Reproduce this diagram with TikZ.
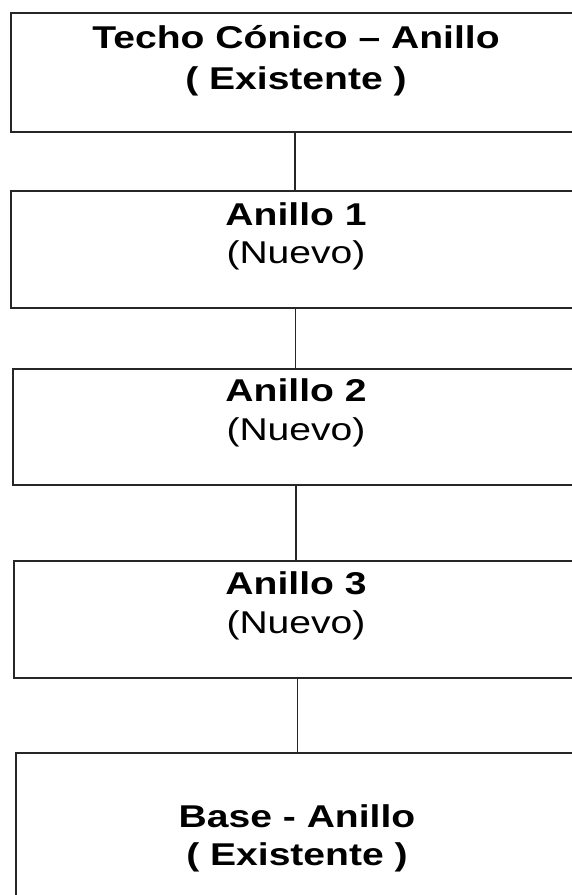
\documentclass[tikz,border=0pt]{standalone}
\usepackage{fontspec}
\setmainfont{Liberation Sans}[FakeStretch=1.24]
\begin{document}
\begin{tikzpicture}[x=1pt,y=1pt,
  ringbox/.style={draw=black!85, line width=1.9pt, rectangle, inner sep=0pt, anchor=north west},
  link/.style={draw=black!85, line width=1.6pt},
  headtxt/.style={inner sep=0pt, anchor=base, font=\fontsize{31.5}{36}\selectfont\bfseries},
  subtxt/.style={inner sep=0pt, anchor=base, font=\fontsize{31.5}{36}\selectfont}]
\useasboundingbox (0,0) rectangle (572,-895);
\fill[white] (0,0) rectangle (572,-895);

% stacked rings, each box runs off the right edge
\node[ringbox, minimum width=600pt, minimum height=119pt] (b1) at (10,-12) {};
\node[ringbox, minimum width=600pt, minimum height=117pt] (b2) at (10,-190) {};
\node[ringbox, minimum width=600pt, minimum height=116pt] (b3) at (12,-368) {};
\node[ringbox, minimum width=600pt, minimum height=117pt] (b4) at (13,-560) {};
\node[ringbox, minimum width=600pt, minimum height=200pt] (b5) at (15,-752) {};

% labels
\node[headtxt] (t1) at (296,-48) {Techo Cónico – Anillo};
\node[headtxt] (s1) at (296,-89) {( Existente )};
\node[headtxt] (t2) at (296,-225) {Anillo 1};
\node[subtxt]  (s2) at (296,-263) {(Nuevo)};
\node[headtxt] (t3) at (296,-401) {Anillo 2};
\node[subtxt]  (s3) at (296,-440) {(Nuevo)};
\node[headtxt] (t4) at (296,-594) {Anillo 3};
\node[subtxt]  (s4) at (296,-633) {(Nuevo)};
\node[headtxt] (t5) at (297,-827) {Base - Anillo};
\node[headtxt] (s5) at (297,-865) {( Existente )};

% vertical connectors between consecutive rings
\draw[link] ([xshift=285pt]b1.south west) -- ([xshift=285pt]b2.north west);
\draw[link] ([xshift=285.5pt]b2.south west) -- ([xshift=283.5pt]b3.north west);
\draw[link] ([xshift=284pt]b3.south west) -- ([xshift=283pt]b4.north west);
\draw[link] ([xshift=284.5pt]b4.south west) -- ([xshift=282.5pt]b5.north west);
\end{tikzpicture}
\end{document}
